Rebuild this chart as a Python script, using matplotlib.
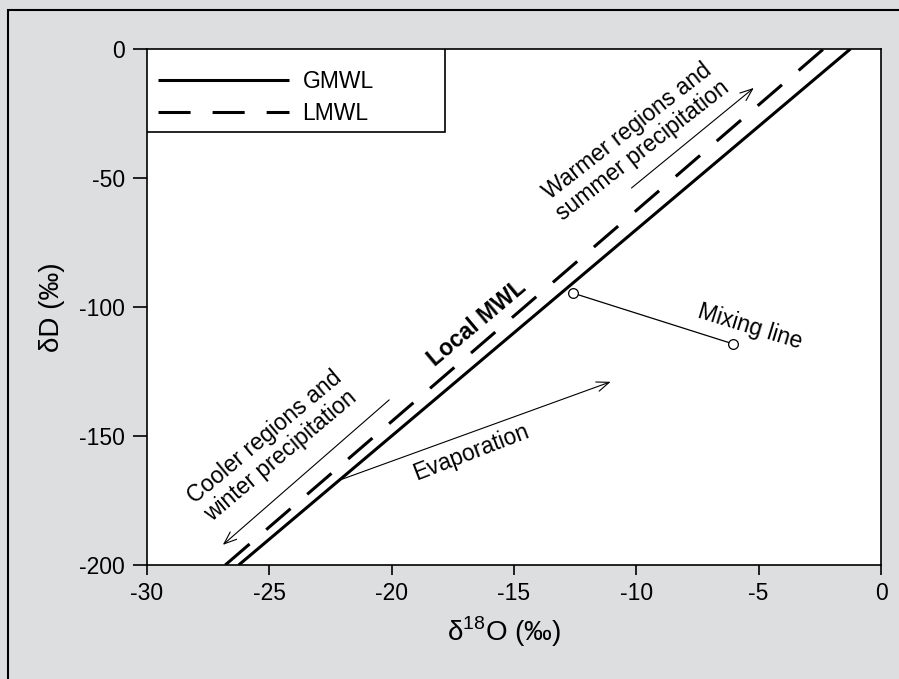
import numpy as np
import matplotlib
matplotlib.use("Agg")
from matplotlib import pyplot as plt
from matplotlib.patches import Rectangle

plt.rcParams['font.family'] = ['Liberation Sans', 'DejaVu Sans']
plt.rcParams['mathtext.fontset'] = 'custom'
plt.rcParams['mathtext.rm'] = 'Liberation Sans'
plt.rcParams['axes.unicode_minus'] = False

# meteoric water lines (end points at the axis limits)
gmwl_x = [-26.25, -1.25]
gmwl_y = [-200, 0]
lmwl_x = [-26.8, -2.35]
lmwl_y = [-200, 0]

# mixing line end members
mix_x = [-12.6, -6.05]
mix_y = [-94.6, -114.3]

# arrows: (tail, head)
warm_arrow = [(-10.2, -53.9), (-5.2, -15.1)]
cool_arrow = [(-20.1, -136.0), (-26.9, -192.2)]
evap_arrow = [(-22.1, -167.0), (-11.05, -129.0)]

xticks = [-30, -25, -20, -15, -10, -5, 0]
yticks = [-200, -150, -100, -50, 0]

bg = '#dcdee0'
fig = plt.figure(figsize=(8.99, 6.79), dpi=100, facecolor=bg)
ax = fig.add_axes([0.1635, 0.1679, 0.8165, 0.760])
ax.set_facecolor('white')

ax.plot(gmwl_x, gmwl_y, color='black', lw=2.2, label='GMWL', solid_capstyle='butt')
ax.plot(lmwl_x, lmwl_y, color='black', lw=2.2, linestyle=(0, (10.5, 7.2)),
        label='LMWL', dash_capstyle='butt')

ax.plot(mix_x, mix_y, color='black', lw=0.9, marker='o', ms=7,
        mfc='white', mec='black', mew=0.9)

arrow_kw = dict(arrowstyle='->,head_length=0.9,head_width=0.35', color='black', lw=0.8,
                shrinkA=0, shrinkB=0)
for tail, head in [warm_arrow, cool_arrow, evap_arrow]:
    ax.annotate('', xy=head, xytext=tail, arrowprops=arrow_kw)

fs = 16.5
txt_kw = dict(ha='center', va='center', rotation_mode='anchor', fontsize=fs)
ax.text(-16.52, -106.2, 'Local MWL', rotation=40, fontweight='bold', **txt_kw)
ax.text(-10.06, -35.7, 'Warmer regions and\nsummer precipitation', rotation=38,
        linespacing=1.1, **txt_kw)
ax.text(-24.85, -153.9, 'Cooler regions and\nwinter precipitation', rotation=40,
        linespacing=1.1, **txt_kw)
ax.text(-16.76, -156.2, 'Evaporation', rotation=21, **txt_kw)
ax.text(-5.36, -107.8, 'Mixing line', rotation=-17, **txt_kw)

ax.set_xlim(-30, 0)
ax.set_ylim(-200, 0)
ax.set_xticks(xticks)
ax.set_yticks(yticks)
ax.tick_params(direction='out', width=1.2, labelsize=16.5)
ax.tick_params(axis='x', length=7.5, pad=5)
ax.tick_params(axis='y', length=10, pad=6)
for s in ax.spines.values():
    s.set_linewidth(1.2)

ax.set_xlabel('δ$^{18}$O (‰)', fontsize=20)
ax.xaxis.set_label_coords(0.487, -0.095)
ax.set_ylabel('δD (‰)', fontsize=20, labelpad=10)

# legend box is wider than its contents, so draw the frame separately
ax.add_patch(Rectangle((0, 0.839), 0.406, 0.161, transform=ax.transAxes,
                       facecolor='white', edgecolor='black', lw=1.2, zorder=4))
leg = ax.legend(loc='upper left', bbox_to_anchor=(0, 0.981), borderaxespad=0,
                frameon=False, fontsize=fs, handlelength=5.68, handletextpad=0.61,
                borderpad=0.5, labelspacing=0.39)
leg.set_zorder(5)

# border round the whole figure
fig.patches.append(Rectangle((0.0089, -0.1), 1.2, 1.0853, transform=fig.transFigure,
                             fill=False, edgecolor='black', lw=1.5))

plt.savefig('out.png', dpi=100, facecolor=bg)
